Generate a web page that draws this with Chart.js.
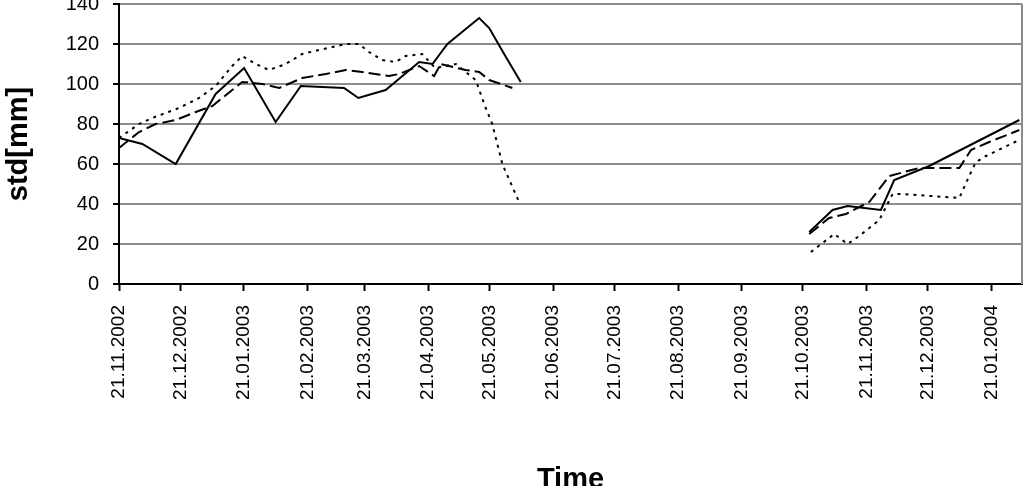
<!DOCTYPE html>
<html>
<head>
<meta charset="utf-8">
<script src="https://cdn.jsdelivr.net/npm/chart.js@4/dist/chart.umd.min.js"></script>
<style>
  html, body { margin: 0; padding: 0; background: #fff; }
  #box { width: 1025px; height: 486px; }
</style>
</head>
<body>
<div id="box"><canvas id="grafico" width="1025" height="486"></canvas></div>
<script>
// days counted from 21.11.2002, null breaks the line (summer gap)
var solidDays   = [0, 11.4, 27.7, 47.2, 61.1, 76.5, 88.8, 109.9, 116.9, 130.2, 146.6, 153.1, 160.4, 175.9, 180.8, 188.1, 196.2, 260, 337.1, 348.5, 355.8, 372.1, 378.6, 395.7, 439.7];
var solidValues = [73, 70, 60, 95, 108, 81, 99, 98, 93, 97, 111, 110, 120, 133, 128, 115, 101, null, 26, 37, 39, 37, 52, 59, 82];

var dashedDays   = [0, 9.8, 17.9, 27.7, 37.5, 45.6, 55.3, 60.2, 70, 78.2, 89.5, 101, 110.7, 118.8, 131.9, 136.8, 146.6, 153.9, 157.1, 169.3, 175.9, 180.8, 192.1, 260, 337.1, 346.8, 355, 366.4, 376.2, 390.8, 410.4, 416.1, 425, 439.7];
var dashedValues = [68, 76, 80, 82, 86, 89, 97, 101, 100, 98, 103, 105, 107, 106, 104, 105, 109, 104, 110, 107, 106, 102, 98, null, 25, 33, 35, 41, 54, 58, 58, 67, 71, 77];

var dottedDays   = [0, 9.8, 16.2, 29.3, 39.1, 47.2, 55.3, 60.2, 66.8, 73.3, 81.4, 89.5, 97.7, 110.7, 117.2, 122.1, 128.6, 135.1, 140, 148.1, 154.4, 164.5, 174.2, 179.1, 182.3, 187.2, 195.4, 260, 337.9, 349.3, 355.8, 361.5, 371.3, 377.8, 382.7, 410.4, 415.2, 418.5, 423.4, 439.7];
var dottedValues = [73, 80, 83, 88, 93, 99, 109, 114, 110, 107, 110, 115, 117, 120, 120, 116, 112, 111, 114, 115, 108, 110, 102, 88, 80, 60, 41, null, 16, 25, 20, 24, 32, 45, 45, 43, 54, 61, 64, 72];

var tickLabels = ["21.11.2002", "21.12.2002", "21.01.2003", "21.02.2003", "21.03.2003", "21.04.2003", "21.05.2003",
                  "21.06.2003", "21.07.2003", "21.08.2003", "21.09.2003", "21.10.2003", "21.11.2003", "21.12.2003", "21.01.2004"];

function diasDesde(txt) {
    var p = txt.split(".");
    var d = Date.UTC(+p[2], +p[1] - 1, +p[0]);
    return Math.round((d - Date.UTC(2002, 10, 21)) / 86400000);
}
var tickDays = tickLabels.map(diasDesde);

function puntos(dias, valores) {
    return dias.map(function (d, i) { return {x: d, y: valores[i]}; });
}

// marco gris a la derecha del área de trazado
var marco = {
    id: "marco",
    afterDraw: function (chart) {
        var a = chart.chartArea, ctx = chart.ctx;
        ctx.save();
        ctx.strokeStyle = "#8c8c8c";
        ctx.lineWidth = 2;
        ctx.beginPath();
        ctx.moveTo(a.right, a.top);
        ctx.lineTo(a.right, a.bottom);
        ctx.stroke();
        ctx.restore();
    }
};

function cargaGrafico() {
    var serie = function (dias, valores, dash) {
        return {
            data: puntos(dias, valores),
            borderColor: "#000",
            borderWidth: 2,
            borderDash: dash,
            pointRadius: 0,
            tension: 0,
            spanGaps: false,
            fill: false
        };
    };

    var config = {
        type: "line",
        data: {
            datasets: [
                serie(dottedDays, dottedValues, [3, 5]),
                serie(dashedDays, dashedValues, [12, 5]),
                serie(solidDays, solidValues, [])
            ]
        },
        options: {
            responsive: false,
            animation: false,
            layout: {padding: {top: 4, right: 3, left: 0, bottom: 0}},
            plugins: {legend: {display: false}, tooltip: {enabled: false}},
            scales: {
                x: {
                    type: "linear",
                    min: 0,
                    max: 441,
                    afterBuildTicks: function (s) {
                        s.ticks = tickDays.map(function (v) { return {value: v}; });
                    },
                    afterFit: function (s) {
                        s.height = 202;
                        s.paddingLeft = 0;
                        s.paddingRight = 0;
                    },
                    ticks: {
                        autoSkip: false,
                        minRotation: 90,
                        maxRotation: 90,
                        padding: 14,
                        color: "#000",
                        font: {family: "Liberation Sans", size: 19},
                        callback: function (v) {
                            var i = tickDays.indexOf(v);
                            return i >= 0 ? tickLabels[i] : "";
                        }
                    },
                    grid: {drawOnChartArea: false, drawTicks: true, tickLength: 7, tickColor: "#000", tickWidth: 2},
                    border: {color: "#000", width: 2},
                    title: {
                        display: true,
                        text: "Time",
                        color: "#000",
                        font: {family: "Liberation Sans", size: 29, weight: "bold", lineHeight: 1.2},
                        padding: {top: 0, bottom: -11}
                    }
                },
                y: {
                    min: 0,
                    max: 140,
                    afterBuildTicks: function (s) {
                        var t = [];
                        for (var v = 0; v <= 140; v += 20) t.push({value: v});
                        s.ticks = t;
                    },
                    afterFit: function (s) {
                        s.width = 119;
                        s.paddingTop = 0;
                        s.paddingBottom = 0;
                    },
                    ticks: {
                        padding: 14,
                        color: "#000",
                        font: {family: "Liberation Sans", size: 20}
                    },
                    grid: {color: "#8c8c8c", lineWidth: 2, tickLength: 6, tickColor: "#000", tickWidth: 2},
                    border: {color: "#000", width: 2},
                    title: {
                        display: true,
                        text: "std[mm]",
                        color: "#000",
                        font: {family: "Liberation Sans", size: 29, weight: "bold", lineHeight: 1.2},
                        padding: {top: 2, bottom: 0}
                    }
                }
            }
        },
        plugins: [marco]
    };
    new Chart(document.getElementById("grafico").getContext("2d"), config);
}

cargaGrafico();
</script>
</body>
</html>
